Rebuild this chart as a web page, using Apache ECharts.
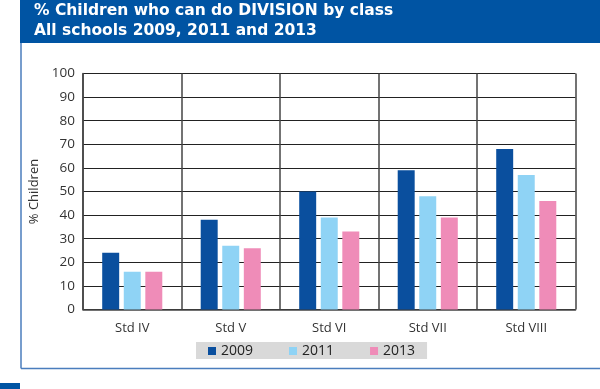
<!DOCTYPE html>
<html>
<head>
<meta charset="utf-8">
<script src="https://cdn.jsdelivr.net/npm/echarts@6/dist/echarts.min.js"></script>
<style>
html,body{margin:0;padding:0;background:#fff;}
#chart{width:600px;height:389px;}
</style>
</head>
<body>
<div id="chart"></div>
<script>
var titleLine1 = '% Children who can do DIVISION by class';
var titleLine2 = 'All schools 2009, 2011 and 2013';
var categories = ['Std IV', 'Std V', 'Std VI', 'Std VII', 'Std VIII'];
var seriesNames = ['2009', '2011', '2013'];
var values2009 = [24, 38, 50, 59, 68];
var values2011 = [16, 27, 39, 48, 57];
var values2013 = [16, 26, 33, 39, 46];
var yTicks = [0, 10, 20, 30, 40, 50, 60, 70, 80, 90, 100];
var yAxisTitle = '% Children';

var colors = ['#0a4f9e', '#8fd3f5', '#ef8cb8'];
var labelFont = 'Open Sans, DejaVu Sans, sans-serif';
var headFont = 'bold 15.5px "DejaVu Sans", sans-serif';

var chart = echarts.init(document.getElementById('chart'), null, {renderer: 'canvas'});
var seriesData = [values2009, values2011, values2013];

chart.setOption({
  animation: false,
  color: colors,
  graphic: [
    {type: 'rect', shape: {x: 20, y: 0, width: 580, height: 43}, style: {fill: '#0054a3'}},
    {type: 'text', left: 34, top: 3, style: {text: titleLine1, fill: '#fff', font: headFont}},
    {type: 'text', left: 34, top: 23, style: {text: titleLine2, fill: '#fff', font: headFont}},
    {type: 'line', shape: {x1: 21, y1: 43, x2: 21, y2: 368.5}, style: {stroke: '#4a7dbd', lineWidth: 1.5}},
    {type: 'line', shape: {x1: 21, y1: 368.5, x2: 600, y2: 368.5}, style: {stroke: '#4a7dbd', lineWidth: 1.5}},
    {type: 'rect', shape: {x: 0, y: 383, width: 20, height: 6}, style: {fill: '#0054a3'}}
  ],
  legend: {
    data: seriesNames,
    left: 196,
    top: 342,
    backgroundColor: '#d9d9d9',
    padding: [2, 12, 1, 12],
    itemWidth: 8,
    itemHeight: 8,
    itemGap: 36,
    icon: 'rect',
    textStyle: {fontSize: 14, color: '#222', fontFamily: labelFont}
  },
  grid: {left: 83, right: 24.5, top: 73.5, bottom: 79.5, containLabel: false},
  xAxis: {
    type: 'category',
    data: categories,
    axisLine: {show: true, lineStyle: {color: '#444', width: 1.5}},
    axisTick: {show: false},
    splitLine: {show: true, lineStyle: {color: '#444', width: 1.5}},
    axisLabel: {fontSize: 13, color: '#333', fontFamily: labelFont, margin: 12}
  },
  yAxis: {
    type: 'value',
    min: yTicks[0],
    max: yTicks[yTicks.length - 1],
    interval: yTicks[1] - yTicks[0],
    name: yAxisTitle,
    nameLocation: 'middle',
    nameGap: 37,
    nameTextStyle: {fontSize: 13, color: '#333', fontFamily: labelFont},
    axisLine: {show: true, lineStyle: {color: '#444', width: 1.5}},
    axisTick: {show: false},
    splitLine: {show: true, lineStyle: {color: '#222', width: 1.2}},
    axisLabel: {fontSize: 13.5, color: '#333', fontFamily: labelFont, margin: 8}
  },
  series: seriesNames.map(function (n, i) {
    return {
      name: n,
      type: 'bar',
      data: seriesData[i],
      barGap: '27%',
      barCategoryGap: '39%',
      itemStyle: {color: colors[i]}
    };
  })
});
</script>
</body>
</html>
